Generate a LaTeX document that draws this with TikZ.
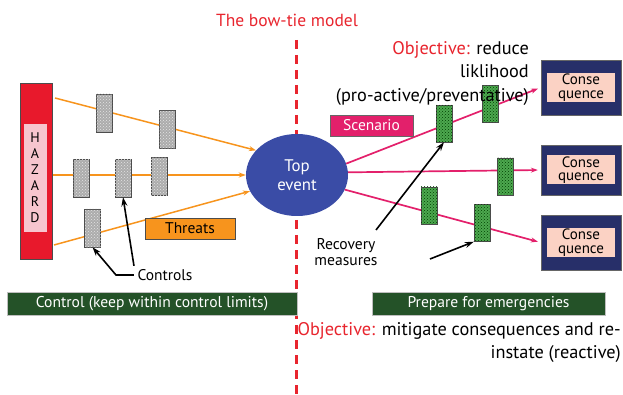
\documentclass[tikz,border=0pt]{standalone}
\usepackage{fontspec}
\setmainfont{PT Sans}
\usetikzlibrary{arrows.meta,patterns,shapes.geometric}

\definecolor{bowred}{HTML}{E8252E}
\definecolor{hazred}{HTML}{E8192C}
\definecolor{hazpink}{HTML}{F7C5CE}
\definecolor{threatorange}{HTML}{F7941D}
\definecolor{eventblue}{HTML}{3A4CA6}
\definecolor{scenpink}{HTML}{E3206B}
\definecolor{recgreen}{HTML}{4DA84F}
\definecolor{bannergreen}{HTML}{245228}
\definecolor{conseqnavy}{HTML}{272F69}
\definecolor{conseqpeach}{HTML}{FBD2C4}

\begin{document}
\begin{tikzpicture}[
    x=1pt, y=-1pt,
    >={Stealth[length=7pt,width=5pt]},
    barrier/.style={draw=black!70, fill=gray!65, minimum width=16pt, minimum height=38pt, inner sep=0pt,
        postaction={pattern=crosshatch dots, pattern color=gray!20}},
    recovery/.style={draw=black!70, fill=recgreen, minimum width=16pt, minimum height=37pt, inner sep=0pt,
        postaction={pattern=crosshatch dots, pattern color=green!25!black}},
    conseq/.style={draw=black!60, fill=conseqnavy, minimum width=80pt, inner sep=0pt},
    conseqtxt/.style={fill=conseqpeach, minimum width=68pt, minimum height=29pt, inner sep=0pt,
        align=center, font=\fontsize{15}{13.5}\selectfont},
    bannerbox/.style={draw=black!25, fill=bannergreen, text=white, minimum height=23pt, inner sep=0pt,
        font=\fontsize{15.6}{16}\selectfont},
    txt/.style={font=\fontsize{15.5}{15}\selectfont},
    objtxt/.style={anchor=north east, align=right, inner sep=0pt, font=\fontsize{18.3}{23.5}\selectfont},
    threatline/.style={threatorange, line width=1.5pt, ->},
    conseqline/.style={scenpink, line width=1.7pt, ->, shorten >=3pt},
    pointer/.style={->, line width=1.6pt, >={Stealth[length=9pt,width=6pt]}}
]
\useasboundingbox (0,0) rectangle (623,395);

% Dividing line and title
\draw[bowred, line width=3pt, dash pattern=on 9pt off 6pt] (296,40) -- (296,395);
\node[text=bowred, font=\fontsize{17.5}{18}\selectfont] (title) at (287,20) {The bow-tie model};

% Hazard
\node[draw=black!70, fill=hazred, minimum width=32pt, minimum height=176pt, inner sep=0pt] (hazard) at (36,171) {};
\node[fill=hazpink, minimum width=23pt, minimum height=108pt, inner sep=0pt, align=center,
    font=\fontsize{14}{16}\selectfont] (hazlbl) at (35,178) {H\\A\\Z\\A\\R\\D};

% Top event
\node[ellipse, fill=eventblue, text=white, minimum width=102pt, minimum height=82pt, inner sep=0pt,
    align=center, font=\fontsize{16.8}{19}\selectfont] (top) at (297,175) {Top\\event};

% Threat lines
\coordinate (h1) at (55,98);
\coordinate (h2) at (53,175);
\coordinate (h3) at (54,245);
\draw[threatline] (h1) -- (top.149);
\draw[threatline] (h2) -- (top.180);
\draw[threatline] (h3) -- (top.199);

% Consequences
\node[conseq, minimum height=55pt] (c1) at (581,87.5) {};
\node[conseq, minimum height=50pt] (c2) at (581,170) {};
\node[conseq, minimum height=55pt] (c3) at (581,242.5) {};
\node[conseqtxt] (c1t) at (c1) {Conse\\quence};
\node[conseqtxt] (c2t) at (c2) {Conse\\quence};
\node[conseqtxt] (c3t) at (c3) {Conse\\quence};

% Consequence lines
\draw[conseqline] (top.13) -- (c1.west);
\draw[conseqline] (top.3) -- (c2.west);
\draw[conseqline] (top.-17) -- (c3.west);

% Controls (barriers)
\node[barrier] (k1) at (104,113) {};
\node[barrier] (k2) at (167,129.5) {};
\node[barrier] (k3) at (81.5,178) {};
\node[barrier] (k4) at (123,178) {};
\node[barrier] (k5) at (159,176.5) {};
\node[barrier] (k6) at (92.5,228) {};

% Recovery measures
\node[recovery] (g1) at (444,123.5) {};
\node[recovery] (g2) at (490,104) {};
\node[recovery] (g3) at (505,176.5) {};
\node[recovery] (g4) at (429,205.5) {};
\node[recovery] (g5) at (482,223) {};

% Labels
\node[draw=black!70, fill=threatorange, minimum width=90pt, minimum height=21pt, inner sep=0pt, txt] (threats) at (190,228.5) {Threats};
\node[draw=black!60, fill=scenpink, text=white, minimum width=83pt, minimum height=21pt, inner sep=0pt, txt] (scenario) at (371.5,125.5) {Scenario};
\node[txt] (ctrls) at (165,275) {Controls};
\node[align=center, font=\fontsize{15.6}{15.5}\selectfont] (recov) at (346,252) {Recovery\\measures};

\draw[pointer] (ctrls.west) -- ++(-18,0) -- (k6.south);
\draw[pointer] (ctrls.north west) -- (k4.south);
\coordinate (r1) at (376,230);
\coordinate (r2) at (430,259);
\draw[pointer] (r1) -- (g1.south);
\draw[pointer] (r2) -- (g5.south west);

% Objectives
\node[objtxt] (objtop) at (529,41)
    {\textcolor{bowred}{Objective:} reduce\\liklihood\\(pro-active/preventative)};

\node[bannerbox, minimum width=290pt] (ban1) at (152,303.5) {Control (keep within control limits)};
\node[bannerbox, minimum width=233pt] (ban2) at (488.5,303.5) {Prepare for emergencies};

\node[objtxt] (objbot) at (621,322)
    {\textcolor{bowred}{Objective:} mitigate consequences and re-\\instate (reactive)};

\end{tikzpicture}
\end{document}
